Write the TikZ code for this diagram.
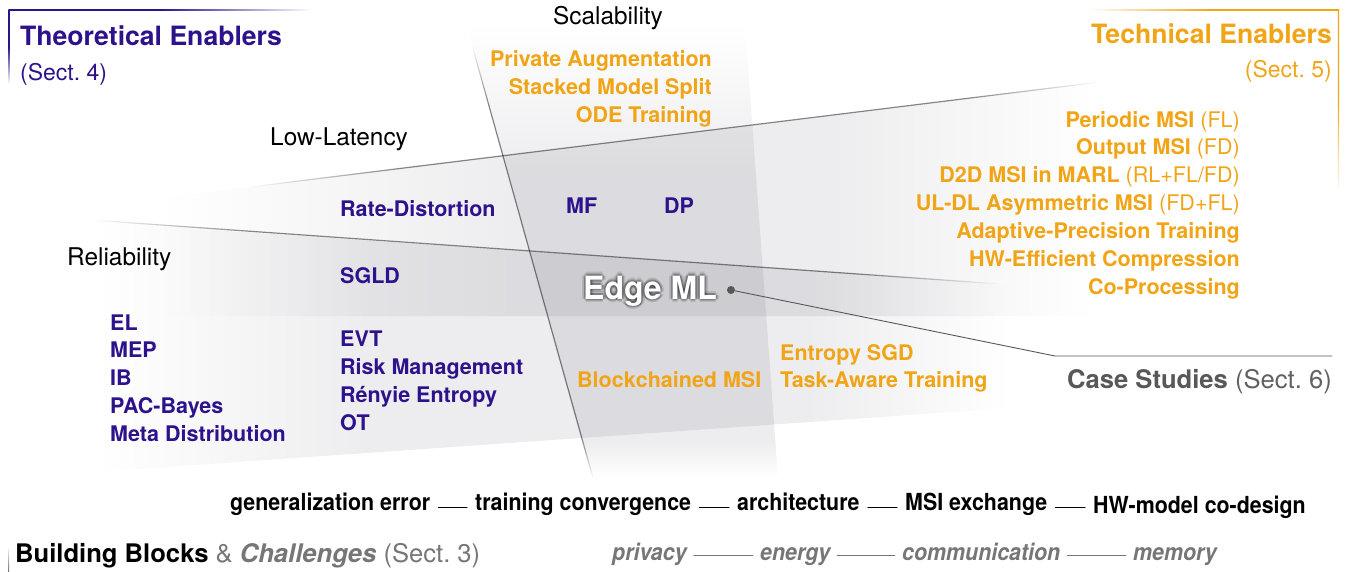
\documentclass[tikz,border=0pt]{standalone}
\usepackage{fontspec}
\setmainfont{TeX Gyre Heros}
\newfontfamily\narrowfont[FakeStretch=0.91]{TeX Gyre Heros}

\definecolor{thpurple}{RGB}{45,18,140}
\definecolor{techorange}{RGB}{240,164,22}
\definecolor{casegray}{RGB}{88,88,88}
\definecolor{chalgray}{RGB}{118,118,118}
\definecolor{bandgray}{RGB}{237,237,239}
\definecolor{rulegray}{RGB}{135,135,138}

\newcommand\fsTitle{\fontsize{26.6}{30}\selectfont}
\newcommand\fsFoot{\fontsize{25.6}{30}\selectfont}
\newcommand\fsSect{\fontsize{23}{28}\selectfont}
\newcommand\fsCat{\fontsize{24.4}{28}\selectfont}
\newcommand\fsItem{\fontsize{21.5}{25}\selectfont}
\newcommand\fsEdge{\fontsize{32}{36}\selectfont}
\newcommand\fsBlock{\fontsize{23.5}{28}\selectfont}

% band shadings: the path covers 25bp..75bp, white parts vanish under multiply
\pgfdeclarehorizontalshading{latshade}{100bp}{color(0bp)=(white); color(25bp)=(white); color(44bp)=(bandgray); color(61bp)=(bandgray); color(75bp)=(white); color(100bp)=(white)}
\pgfdeclarehorizontalshading{relshade}{100bp}{color(0bp)=(white); color(25bp)=(white); color(40bp)=(bandgray); color(64bp)=(bandgray); color(75bp)=(white); color(100bp)=(white)}
\pgfdeclareverticalshading{scalshade}{100bp}{color(0bp)=(white); color(25bp)=(white); color(29bp)=(bandgray); color(59bp)=(bandgray); color(75bp)=(white); color(100bp)=(white)}
\pgfdeclarehorizontalshading{lineshade}{100bp}{color(0bp)=(white); color(25bp)=(white); color(34bp)=(rulegray); color(67bp)=(rulegray); color(75bp)=(white); color(100bp)=(white)}
\pgfdeclareverticalshading{vlineshade}{100bp}{color(0bp)=(white); color(25bp)=(white); color(30bp)=(rulegray); color(68bp)=(rulegray); color(75bp)=(white); color(100bp)=(white)}

\begin{document}
\begin{tikzpicture}[x=1pt, y=-1pt, line join=round, line cap=round,
  theo/.style={font=\fsItem\bfseries, text=thpurple, inner sep=0pt, anchor=base west},
  tech/.style={font=\fsItem\bfseries, text=techorange, inner sep=0pt},
  category/.style={font=\fsCat, inner sep=0pt},
  block/.style={font=\fsBlock\narrowfont\bfseries, inner sep=0pt, anchor=base west},
  challenge/.style={font=\fsBlock\narrowfont\bfseries\itshape, text=chalgray, inner sep=0pt, anchor=base west},
  band/.style={blend mode=multiply}]
\useasboundingbox (0,0) rectangle (1347,571);

% shaded bands
\shade[band, shading=latshade] (160,198) -- (1095,83) -- (1095,316) -- (160,316) -- cycle;
\shade[band, shading=relshade] (95,222) -- (1010,284) -- (1010,408) -- (95,472) -- cycle;
\shade[band, shading=scalshade] (467,28) -- (745,24) -- (778,478) -- (592,478) -- cycle;
\shade[band, shading=lineshade] (250,186.4) -- (1100,81.4) -- (1100,82.6) -- (250,187.6) -- cycle;
\shade[band, shading=lineshade] (90,219.4) -- (1000,283.4) -- (1000,284.6) -- (90,220.6) -- cycle;
\shade[band, shading=vlineshade] (471.4,45) -- (472.6,45) -- (593.6,478) -- (592.4,478) -- cycle;

% frames
\shade[left color=thpurple, right color=white, middle color=thpurple] (8.5,9.4) rectangle (312,10.6);
\shade[top color=thpurple, bottom color=white, middle color=thpurple] (8.5,9.4) rectangle (9.7,84);
\shade[left color=white, right color=techorange, middle color=techorange] (1088,9.4) rectangle (1339,10.6);
\shade[top color=techorange, bottom color=white, middle color=techorange] (1337.8,9.4) rectangle (1339,192);
\shade[top color=white, bottom color=black!55] (8,546) rectangle (9.2,571);

% titles
\node[font=\fsTitle\bfseries, text=thpurple, inner sep=0pt, anchor=base west] (theotitle) at (20,45) {Theoretical Enablers};
\node[font=\fsSect, text=thpurple, inner sep=0pt, anchor=base west] (theosect) at (20,80) {(Sect.~4)};
\node[font=\fsTitle\bfseries, text=techorange, inner sep=0pt, anchor=base east] (techtitle) at (1332,43) {Technical Enablers};
\node[font=\fsSect, text=techorange, inner sep=0pt, anchor=base east] (techsect) at (1332,77) {(Sect.~5)};

\node[category, anchor=base] (scal) at (608,24) {Scalability};
\node[category, anchor=base west] (lat) at (270,145) {Low-Latency};
\node[category, anchor=base west] (rel) at (67,265) {Reliability};

% technical enablers
\foreach \t [count=\i] in {Private Augmentation, Stacked Model Split, ODE Training}
  \node[tech, anchor=base east] (scal\i) at (712,{66+28*(\i-1)}) {\t};
\foreach \t [count=\i] in {Periodic MSI \textmd{(FL)}, Output MSI \textmd{(FD)}, D2D MSI in MARL \textmd{(RL+FL/FD)}, UL-DL Asymmetric MSI \textmd{(FD+FL)}, Adaptive-Precision Training, HW-Efficient Compression, Co-Processing}
  \node[tech, anchor=base east] (tech\i) at (1240,{127+27.9*(\i-1)}) {\t};
\node[tech, anchor=base west] (chain) at (577,387) {Blockchained MSI};
\node[tech, anchor=base west] (entsgd) at (780,360) {Entropy SGD};
\node[tech, anchor=base west] (task) at (780,387) {Task-Aware Training};

% theoretical enablers
\node[theo] (rd) at (340,216) {Rate-Distortion};
\node[theo] (mf) at (566,213) {MF};
\node[theo] (dp) at (664,213) {DP};
\node[theo] (sgld) at (340,283) {SGLD};
\foreach \t [count=\i] in {EL, MEP, IB, PAC-Bayes, Meta Distribution}
  \node[theo] (rel\i) at (110,{330+27.8*(\i-1)}) {\t};
\foreach \t [count=\i] in {EVT, Risk Management, Rényie Entropy, OT}
  \node[theo] (risk\i) at (340,{346+28.3*(\i-1)}) {\t};

% Edge ML
\foreach \dx/\dy [count=\k] in {2/0,-2/0,0/2,0/-2,1.5/1.5,-1.5/1.5,1.5/-1.5,-1.5/-1.5,3.5/0,-3.5/0,0/3.5,0/-3.5}
  \node[font=\fsEdge\bfseries, inner sep=0pt, anchor=base west, text=black, text opacity=0.11] (glow\k) at ({583+\dx},{299+\dy}) {Edge ML};
\node[font=\fsEdge\bfseries, inner sep=0pt, anchor=base west, text=white] (edgeml) at (583,299) {Edge ML};

\node[circle, fill=casegray, inner sep=0pt, minimum size=8pt] (dot) at (731,290) {};
\coordinate (knee) at (1055,356);
\coordinate (caseend) at (1332,356);
\draw[casegray, line width=0.9pt] (dot) -- (knee) -- (caseend);
\node[font=\fsFoot, text=casegray, inner sep=0pt, anchor=base east] (cases) at (1332,388) {\textbf{Case Studies} {\color{black!62}(Sect.~6)}};

% building blocks & challenges
\node[font=\fsFoot, inner sep=0pt, anchor=base west] (blocks) at (15,562) {\textbf{Building Blocks} {\color{chalgray}\& \textbf{\textit{Challenges}} (Sect.~3)}};
\node[block] (gen) at (230,510) {generalization error};
\node[block] (conv) at (475,510) {training convergence};
\node[block] (arch) at (737,510) {architecture};
\node[block] (msi) at (905,510) {MSI exchange};
\node[block] (hw) at (1093,513) {HW-model co-design};
\foreach \a/\b in {gen/conv, conv/arch, arch/msi, msi/hw}
  \draw[line width=1pt, shorten <=8pt, shorten >=8pt] (\a.mid east) -- (\a.mid east -| \b.west);
\node[challenge] (priv) at (612,560) {privacy};
\node[challenge] (energy) at (760,560) {energy};
\node[challenge] (comm) at (902,560) {communication};
\node[challenge] (mem) at (1133,560) {memory};
\foreach \a/\b in {priv/energy, energy/comm, comm/mem}
  \draw[chalgray, line width=0.9pt, shorten <=7pt, shorten >=7pt] ([yshift=2pt]\a.mid east) -- ([yshift=2pt]\b.mid west);
\end{tikzpicture}
\end{document}
